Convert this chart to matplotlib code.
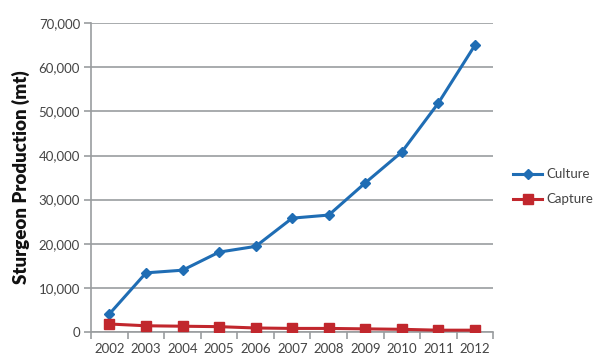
import matplotlib.pyplot as plt
from matplotlib.ticker import FuncFormatter, FixedLocator

years = ['2002', '2003', '2004', '2005', '2006', '2007', '2008', '2009', '2010', '2011', '2012']
culture = [4100, 13400, 14000, 18100, 19400, 25800, 26500, 33800, 40800, 51900, 65000]
capture = [1800, 1400, 1300, 1200, 900, 800, 800, 700, 600, 400, 400]

plt.rcParams['font.family'] = ['Lato', 'DejaVu Sans']

fig = plt.figure(figsize=(6, 3.62), dpi=100)
ax = fig.add_axes([0.152, 0.083, 0.67, 0.853])

x = list(range(len(years)))
ax.plot(x, culture, color='#1f6db4', lw=2.2, marker='D', ms=5, label='Culture', zorder=3)
ax.plot(x, capture, color='#c1272d', lw=2.2, marker='s', ms=7, label='Capture', zorder=3)

ax.set_xlim(-0.5, len(years) - 0.5)
ax.set_ylim(0, 70000)
ax.set_yticks(range(0, 70001, 10000))
ax.yaxis.set_major_formatter(FuncFormatter(lambda v, p: f'{int(v):,}'))
ax.yaxis.grid(True, color='#9a9d9f', lw=1.2)
ax.set_axisbelow(True)

# category axis: ticks on boundaries, labels centred
ax.xaxis.set_major_locator(FixedLocator([i - 0.5 for i in range(len(years) + 1)]))
ax.xaxis.set_minor_locator(FixedLocator(x))
ax.set_xticklabels([])
ax.set_xticklabels(years, minor=True)
ax.tick_params(axis='x', which='major', direction='out', length=5, color='#9a9d9f', width=1.2)
ax.tick_params(axis='x', which='minor', length=0, pad=8, labelsize=9.5, labelcolor='#444444')
ax.tick_params(axis='y', direction='out', length=5, color='#9a9d9f', width=1.2,
               labelsize=9.5, labelcolor='#444444', pad=3)

for s in ['top', 'right']:
    ax.spines[s].set_visible(False)
for s in ['left', 'bottom']:
    ax.spines[s].set_color('#9a9d9f')
    ax.spines[s].set_linewidth(1.2)

ax.set_ylabel('Sturgeon Production (mt)', fontsize=13.5, fontweight='heavy', color='#111111', labelpad=6)

ax.legend(loc='center left', bbox_to_anchor=(1.02, 0.47), frameon=False, fontsize=9.5,
          handlelength=2.2, labelspacing=1.0, handletextpad=0.3, labelcolor='#444444')

fig.savefig('out.png', dpi=100)
